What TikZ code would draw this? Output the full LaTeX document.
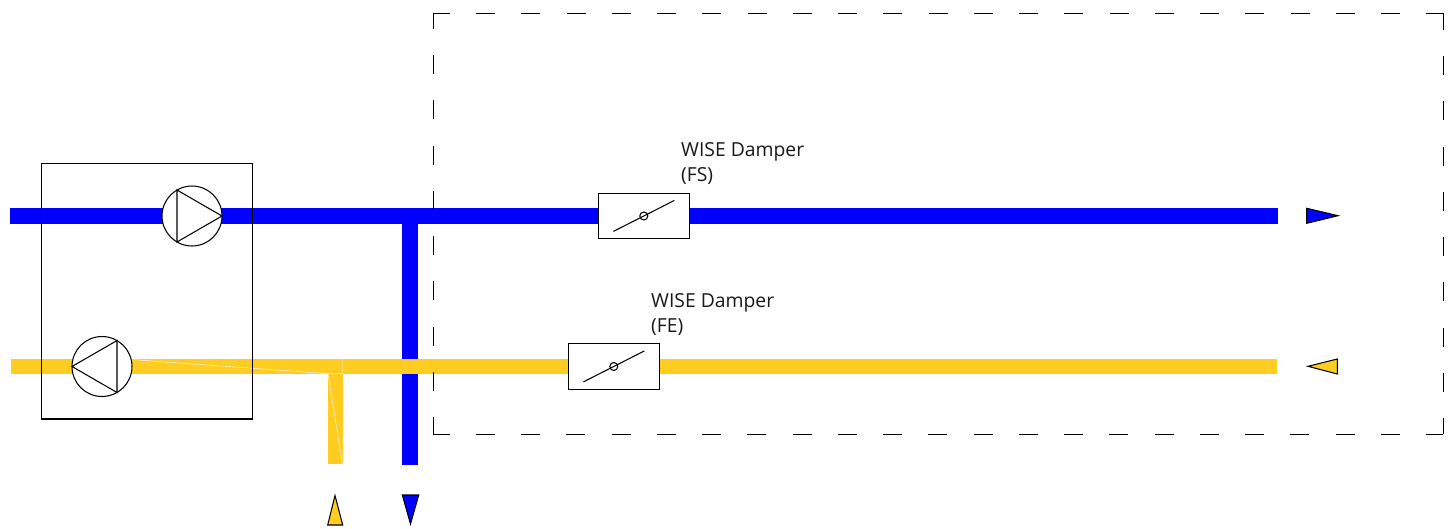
\documentclass[tikz,border=0pt]{standalone}
\usepackage{fontspec}
\setmainfont{Open Sans}
\usetikzlibrary{positioning,calc}
\definecolor{supply}{RGB}{0,0,255}
\definecolor{extract}{RGB}{255,204,33}
\tikzset{
  duct/.style={line width=0.32cm, draw=supply},
  ductfe/.style={line width=0.3cm, draw=extract},
  unit/.style={draw=black, line width=0.6pt},
  fan/.style={draw=black, line width=0.6pt, circle, fill=white, minimum size=1.2cm, inner sep=0pt, outer sep=0pt},
  damper/.style={draw=black, line width=0.6pt, fill=white, minimum width=1.82cm, minimum height=0.91cm, inner sep=0pt, outer sep=0pt},
  pivot/.style={draw=black, line width=0.6pt, circle, minimum size=0.16cm, inner sep=0pt},
  blade/.style={draw=black, line width=0.6pt},
  lbl/.style={font=\fontsize{11pt}{14.2pt}\selectfont, align=left, inner sep=0pt, text=black!90},
  boundary/.style={draw=black, line width=0.55pt, dash pattern=on 0.38cm off 0.525cm, dash phase=0.04cm},
  tip/.style={draw=black, line width=0.6pt, fill=#1},
  seam/.style={draw=white, line width=0.25pt}
}

\begin{document}
\begin{tikzpicture}[x=0.02cm,y=-0.02cm]
    \useasboundingbox (0,0) rectangle (1453,528);
    % duct ends
    \coordinate (fsin) at (10,215.7);
    \coordinate (fsout) at (1278,215.7);
    \coordinate (fstee) at (410.4,215.7);
    \coordinate (fsdown) at (410.4,465);
    \coordinate (fein) at (11,366.5);
    \coordinate (feout) at (1277,366.5);
    \coordinate (fetee) at (335.2,366.5);
    \coordinate (feup) at (335.2,464);
    % ducts
    \draw[duct] (fsin) -- (fsout);
    \draw[duct] (fstee) -- (fsdown);
    \draw[ductfe] (fein) -- (feout);
    \draw[ductfe] (fetee) -- (feup);
    \coordinate (sa) at (134,359.7);
    \coordinate (sb) at (328,373.7);
    \coordinate (sc) at (342.5,373.7);
    \coordinate (sd) at (342.5,359.2);
    \coordinate (se) at (342.5,464);
    \draw[seam] (sa) -- (sb) -- (sc) -- (sd);
    \draw[seam] (sb) -- (se);
    % unit casing
    \node[unit, minimum width=4.22cm, minimum height=5.12cm, inner sep=0pt] (ahu) at (146.8,291) {};
    % fans
    \node[fan] (fs) at (192,216) {};
    \draw[blade] (fs.0) -- (fs.120) -- (fs.240) -- cycle;
    \node[fan] (fe) at (102,366.5) {};
    \draw[blade] (fe.180) -- (fe.60) -- (fe.300) -- cycle;
    % dampers
    \node[damper] (dfs) at (643.8,216) {};
    \node[pivot] (pfs) at (dfs.center) {};
    \draw[blade] ($(dfs.center)+(-30.4,15.4)$) -- ($(dfs.center)+(30.6,-15.6)$);
    \node[lbl, above right=0.16cm and -0.17cm of dfs.north east] (lfs) {WISE Damper\\(FS)};
    \node[damper] (dfe) at (613.8,366.5) {};
    \node[pivot] (pfe) at (dfe.center) {};
    \draw[blade] ($(dfe.center)+(-30.4,15.4)$) -- ($(dfe.center)+(30.6,-15.6)$);
    \node[lbl, above right=0.16cm and -0.17cm of dfe.north east] (lfe) {WISE Damper\\(FE)};
    % building boundary
    \coordinate (btl) at (433,13);
    \coordinate (btr) at (1443,13);
    \coordinate (bbr) at (1443,434);
    \coordinate (bbl) at (433,434);
    \draw[boundary] (btl) -- (btr);
    \draw[boundary] (btr) -- (bbr);
    \draw[boundary] (bbr) -- (bbl);
    \draw[boundary] (bbl) -- (btl);
    % flow tips
    \draw[tip=supply] (1306.7,208.3) -- (1338,215.7) -- (1306.7,223.3) -- cycle;
    \draw[tip=extract] (1308,366.3) -- (1337.3,359) -- (1337.3,374) -- cycle;
    \draw[tip=extract] (335,495.5) -- (342.7,525) -- (327.7,525) -- cycle;
    \draw[tip=supply] (402.3,495) -- (418.7,495) -- (410.5,524) -- cycle;
\end{tikzpicture}
\end{document}
